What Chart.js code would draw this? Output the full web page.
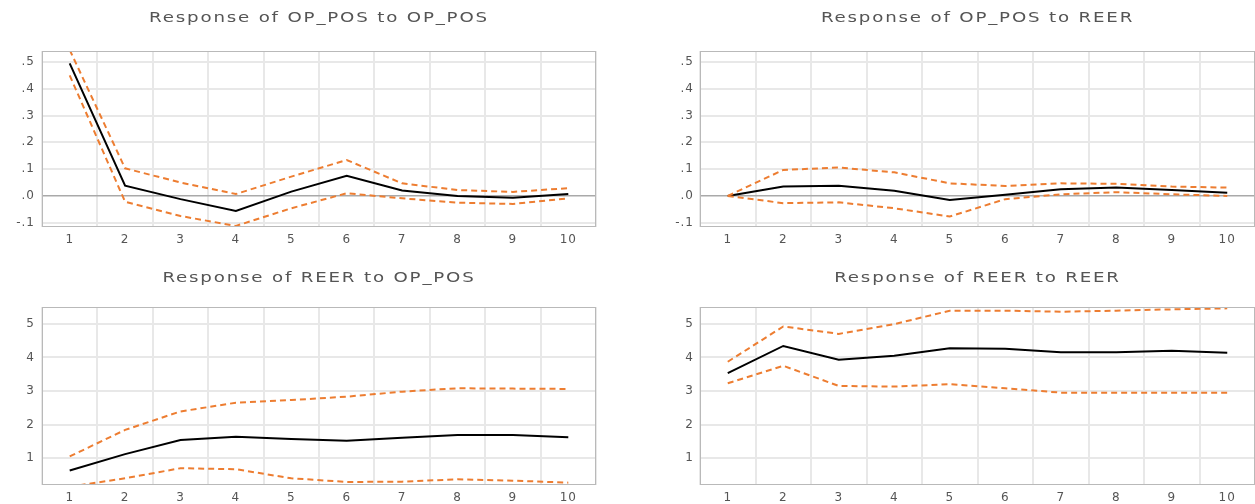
<!DOCTYPE html>
<html>
<head>
<meta charset="utf-8">
<script src="https://cdn.jsdelivr.net/npm/chart.js@4.4.1/dist/chart.umd.min.js"></script>
<style>
  html, body { margin: 0; padding: 0; background: #ffffff; }
  body { width: 1255px; height: 504px; position: relative; overflow: hidden; }
  .panel { position: absolute; }
  canvas { display: block; }
</style>
</head>
<body>
<div class="panel" style="left:0px;top:0px;"><canvas id="c1" width="627" height="252"></canvas></div>
<div class="panel" style="left:627px;top:0px;"><canvas id="c2" width="628" height="252"></canvas></div>
<div class="panel" style="left:0px;top:252px;"><canvas id="c3" width="627" height="252"></canvas></div>
<div class="panel" style="left:627px;top:252px;"><canvas id="c4" width="628" height="252"></canvas></div>
<script>
// ---- data ----
const periods = ['1', '2', '3', '4', '5', '6', '7', '8', '9', '10'];

const titles = [
  'Response of OP_POS to OP_POS',
  'Response of OP_POS to REER',
  'Response of REER to OP_POS',
  'Response of REER to REER'
];

const opOpMean  = [0.495, 0.038, -0.012, -0.056, 0.016, 0.075, 0.020, 0.000, -0.007, 0.007];
const opOpUpper = [0.545, 0.103, 0.050, 0.007, 0.072, 0.134, 0.047, 0.022, 0.015, 0.029];
const opOpLower = [0.450, -0.022, -0.075, -0.112, -0.046, 0.010, -0.009, -0.025, -0.030, -0.009];

const opReerMean  = [0.000, 0.035, 0.038, 0.019, -0.015, 0.004, 0.025, 0.031, 0.022, 0.012];
const opReerUpper = [0.000, 0.097, 0.106, 0.088, 0.047, 0.037, 0.047, 0.045, 0.035, 0.031];
const opReerLower = [0.000, -0.027, -0.024, -0.046, -0.077, -0.012, 0.006, 0.014, 0.006, 0.000];

const reerOpMean  = [0.63, 1.12, 1.54, 1.64, 1.57, 1.52, 1.61, 1.69, 1.69, 1.62];
const reerOpUpper = [1.05, 1.84, 2.39, 2.65, 2.73, 2.83, 2.98, 3.08, 3.07, 3.06];
const reerOpLower = [0.15, 0.40, 0.70, 0.67, 0.40, 0.29, 0.30, 0.37, 0.33, 0.27];

const reerReerMean  = [3.53, 4.34, 3.93, 4.05, 4.27, 4.26, 4.15, 4.15, 4.20, 4.14];
const reerReerUpper = [3.87, 4.92, 4.70, 4.99, 5.39, 5.39, 5.36, 5.39, 5.43, 5.46];
const reerReerLower = [3.23, 3.75, 3.15, 3.13, 3.20, 3.08, 2.95, 2.95, 2.95, 2.95];

const smallTickValues = [-0.1, 0.0, 0.1, 0.2, 0.3, 0.4, 0.5];
const smallTickLabels = ['-.1', '.0', '.1', '.2', '.3', '.4', '.5'];
const smallRange = [-0.116, 0.541];

const largeTickValues = [1, 2, 3, 4, 5];
const largeTickLabels = ['1', '2', '3', '4', '5'];
const largeRange = [0.2, 5.5];

// ---- styles ----
const ORANGE = '#ED7D31';
const GRID = '#e8e8e8';
const ZERO = '#a9a9a9';
const BORDER = '#b9b9b9';
const TEXT = '#555555';
const FONT = "'DejaVu Sans', Verdana, sans-serif";

const frame = {
  id: 'frame',
  beforeDraw(chart) {
    try { chart.ctx.letterSpacing = '1px'; } catch (e) {}
  },
  afterDraw(chart) {
    const a = chart.chartArea, ctx = chart.ctx;
    ctx.save();
    ctx.strokeStyle = BORDER;
    ctx.lineWidth = 1;
    ctx.strokeRect(a.left + 0.5, a.top + 0.5, a.right - a.left - 1, a.bottom - a.top - 1);
    ctx.restore();
  }
};

// widen the title glyphs a little, like the reference's stretched lettering
const spacedTitle = {
  id: 'spacedTitle',
  afterInit(chart) {
    const tb = chart.titleBlock;
    if (!tb) return;
    const orig = tb.draw;
    tb.draw = function() {
      const ctx = chart.ctx;
      const prev = ctx.letterSpacing;
      const cx = (this.left + this.right) / 2;
      ctx.save();
      ctx.translate(cx, 0);
      ctx.scale(1.3, 1);
      ctx.translate(-cx, 0);
      try { ctx.letterSpacing = '1.4px'; } catch (e) {}
      orig.apply(this, arguments);
      ctx.restore();
      try { ctx.letterSpacing = prev || '1px'; } catch (e) {}
    };
  }
};

function makeChart(id, title, mean, upper, lower, tickValues, tickLabels, range, opts) {
  const ds = (data, color, dash) => ({
    data: data,
    borderColor: color,
    backgroundColor: color,
    borderWidth: 2,
    borderDash: dash,
    pointRadius: 0,
    pointHoverRadius: 0,
    tension: 0,
    fill: false
  });
  new Chart(document.getElementById(id), {
    type: 'line',
    data: {
      labels: periods,
      datasets: [
        ds(upper, ORANGE, [6, 4]),
        ds(lower, ORANGE, [6, 4]),
        ds(mean, '#000000', [])
      ]
    },
    options: {
      responsive: false,
      devicePixelRatio: 1,
      animation: false,
      events: [],
      layout: { padding: { left: 0, right: opts.padRight, top: 0, bottom: 0 } },
      plugins: {
        legend: { display: false },
        tooltip: { enabled: false },
        title: {
          display: true,
          text: title,
          fullSize: false,
          color: TEXT,
          font: { family: FONT, size: 14, weight: 'normal', lineHeight: 1.2 },
          padding: { top: opts.titleTop, bottom: opts.titleBottom }
        }
      },
      scales: {
        x: {
          type: 'category',
          offset: true,
          grid: { offset: true, color: GRID, lineWidth: 2, drawTicks: false },
          border: { display: false },
          ticks: { color: TEXT, font: { family: FONT, size: 12 }, padding: 6, maxRotation: 0, autoSkip: false },
          afterFit(scale) { scale.height = opts.xHeight; }
        },
        y: {
          type: 'linear',
          min: range[0],
          max: range[1],
          grid: {
            drawTicks: false,
            color: (c) => (c.tick && c.tick.value === 0 ? ZERO : GRID),
            lineWidth: (c) => (c.tick && c.tick.value === 0 ? 1.5 : 2)
          },
          border: { display: false },
          afterBuildTicks(scale) { scale.ticks = tickValues.map(v => ({ value: v })); },
          ticks: {
            color: TEXT,
            font: { family: FONT, size: 12 },
            padding: opts.yPad,
            callback: (v) => {
              const i = tickValues.findIndex(t => Math.abs(t - v) < 1e-9);
              return i >= 0 ? tickLabels[i] : '';
            }
          },
          afterFit(scale) { scale.width = opts.yWidth; }
        }
      }
    },
    plugins: [frame, spacedTitle]
  });
}

const topOpts = { titleTop: 9.6, titleBottom: 24.6, xHeight: 25 };
const botOpts = { titleTop: 17.6, titleBottom: 20.6, xHeight: 19 };

makeChart('c1', titles[0], opOpMean, opOpUpper, opOpLower, smallTickValues, smallTickLabels, smallRange,
  Object.assign({ padRight: 31, yWidth: 42, yPad: 7 }, topOpts));
makeChart('c2', titles[1], opReerMean, opReerUpper, opReerLower, smallTickValues, smallTickLabels, smallRange,
  Object.assign({ padRight: 0, yWidth: 73, yPad: 6 }, topOpts));
makeChart('c3', titles[2], reerOpMean, reerOpUpper, reerOpLower, largeTickValues, largeTickLabels, largeRange,
  Object.assign({ padRight: 31, yWidth: 42, yPad: 7 }, botOpts));
makeChart('c4', titles[3], reerReerMean, reerReerUpper, reerReerLower, largeTickValues, largeTickLabels, largeRange,
  Object.assign({ padRight: 0, yWidth: 73, yPad: 6 }, botOpts));
</script>
</body>
</html>
